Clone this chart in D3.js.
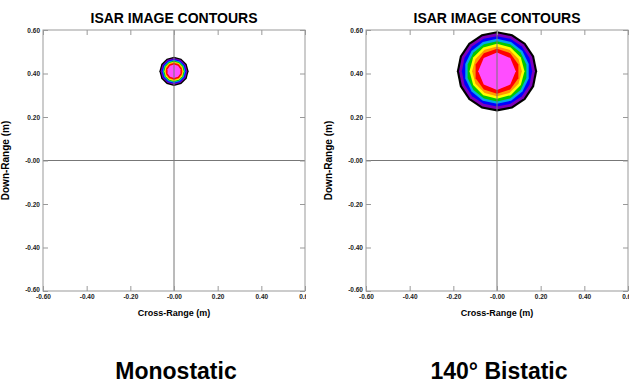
<!DOCTYPE html>
<html>
<head>
<meta charset="utf-8">
<script src="https://cdn.jsdelivr.net/npm/d3@7"></script>
<style>
  body { margin: 0; background: #fff; }
  svg { display: block; font-family: "Liberation Sans", Arial, sans-serif; }
</style>
</head>
<body>
<svg width="636" height="383"></svg>
<script>
// axis ticks (metres) and their printed labels
var tickValues = [-0.6, -0.4, -0.2, 0, 0.2, 0.4, 0.6];
var xTickLabels = ["-0.60", "-0.40", "-0.20", "-0.00", "0.20", "0.40", "0.60"];
var yTickLabels = ["-0.60", "-0.40", "-0.20", "-0.00", "0.20", "0.40", "0.60"];

// contour levels, outermost first
var levelColors = ["#000000", "#7d00b8", "#0000ff", "#00a8e8", "#00c800", "#ffff00", "#ff9a00", "#ff0000", "#ff4dff"];
// outer radius of each level (m)
var monoRadii = [0.067, 0.061, 0.056, 0.052, 0.048, 0.044, 0.041, 0.038, 0.031];
var bistaticRadii = [0.184, 0.174, 0.161, 0.149, 0.138, 0.126, 0.114, 0.103, 0.086];
// target centre (cross-range, down-range)
var monoCenter = [0, 0.41];
var bistaticCenter = [0, 0.41];

var panelTitles = ["ISAR IMAGE CONTOURS", "ISAR IMAGE CONTOURS"];
var captions = ["Monostatic", "140\u00B0 Bistatic"];

var svg = d3.select("svg");

var drawPanel = function(left, radii, center, sides, title, caption, id) {
  var top = 30, w = 262, h = 261;
  var x = d3.scaleLinear().domain([-0.6, 0.6]).range([0, w]);
  var y = d3.scaleLinear().domain([-0.6, 0.6]).range([h, 0]);

  var g = svg.append("g").attr("transform", "translate(" + left + "," + top + ")");

  // title
  g.append("text")
    .attr("x", w / 2).attr("y", -7)
    .attr("text-anchor", "middle")
    .style("font-size", "14px").style("font-weight", "bold")
    .text(title);

  // contours
  var cx = x(center[0]), cy = y(center[1]);
  radii.forEach(function(r, i) {
    var rp = x(r) - x(0);
    var n = sides[i];
    var angles = d3.range(n).map(function(k) { return k * 2 * Math.PI / n; });
    var line = d3.lineRadial()
      .angle(function(a) { return a; })
      .radius(rp)
      .curve(d3.curveLinearClosed);
    g.append("path")
      .attr("transform", "translate(" + cx + "," + cy + ")")
      .attr("d", line(angles))
      .attr("fill", levelColors[i]);
  });

  // centre cross lines
  g.append("line").attr("x1", x(0)).attr("x2", x(0)).attr("y1", 0).attr("y2", h)
    .attr("stroke", "#777").attr("stroke-width", 1);
  g.append("line").attr("x1", 0).attr("x2", w).attr("y1", y(0)).attr("y2", y(0))
    .attr("stroke", "#777").attr("stroke-width", 1);

  // frame
  g.append("rect").attr("x", 0).attr("y", 0).attr("width", w).attr("height", h)
    .attr("fill", "none").attr("stroke", "#999").attr("stroke-width", 1);

  // clip for the last x label
  svg.append("clipPath").attr("id", "clip" + id)
    .append("rect").attr("x", -30).attr("y", -5).attr("width", w + 31).attr("height", 30);

  var xAxis = d3.axisBottom(x).tickValues(tickValues)
    .tickSizeInner(-5).tickSizeOuter(0).tickPadding(3)
    .tickFormat(function(d, i) { return xTickLabels[i]; });
  var yAxis = d3.axisLeft(y).tickValues(tickValues)
    .tickSizeInner(-5).tickSizeOuter(0).tickPadding(3)
    .tickFormat(function(d, i) { return yTickLabels[i]; });

  var xg = g.append("g").attr("transform", "translate(0," + h + ")")
    .attr("clip-path", "url(#clip" + id + ")").call(xAxis);
  var yg = g.append("g").call(yAxis);
  var tg = g.append("g").call(d3.axisTop(x).tickValues(tickValues).tickSizeInner(-5).tickSizeOuter(0).tickFormat(""));
  var rg = g.append("g").attr("transform", "translate(" + w + ",0)")
    .call(d3.axisRight(y).tickValues(tickValues).tickSizeInner(-5).tickSizeOuter(0).tickFormat(""));

  [xg, yg, tg, rg].forEach(function(a) {
    a.select(".domain").remove();
    a.selectAll("line").attr("stroke", "#999");
    a.selectAll("text")
      .attr("fill", "#222")
      .style("font-size", "6.5px").style("font-weight", "bold")
      .style("font-family", "'Liberation Sans', Arial, sans-serif");
  });
  // bottom y label sits a little higher, as in the original
  yg.selectAll(".tick").filter(function(d) { return d === -0.6; })
    .select("text").attr("dy", "0.1em");

  // axis titles
  g.append("text")
    .attr("x", w / 2).attr("y", h + 25)
    .attr("text-anchor", "middle")
    .style("font-size", "9px").style("font-weight", "bold")
    .text("Cross-Range (m)");
  g.append("text")
    .attr("transform", "translate(-34," + (h / 2) + ") rotate(-90)")
    .attr("text-anchor", "middle")
    .style("font-size", "10px").style("font-weight", "bold")
    .text("Down-Range (m)");

  // caption under the panel
  g.append("text")
    .attr("x", w / 2 + 2).attr("y", 379 - top)
    .attr("text-anchor", "middle")
    .style("font-size", "23px").style("font-weight", "bold")
    .text(caption);
};

drawPanel(43, monoRadii, monoCenter, [12, 12, 12, 12, 12, 12, 12, 10, 10], panelTitles[0], captions[0], 0);
drawPanel(366, bistaticRadii, bistaticCenter, [16, 16, 16, 14, 14, 12, 12, 10, 8], panelTitles[1], captions[1], 1);
</script>
</body>
</html>
